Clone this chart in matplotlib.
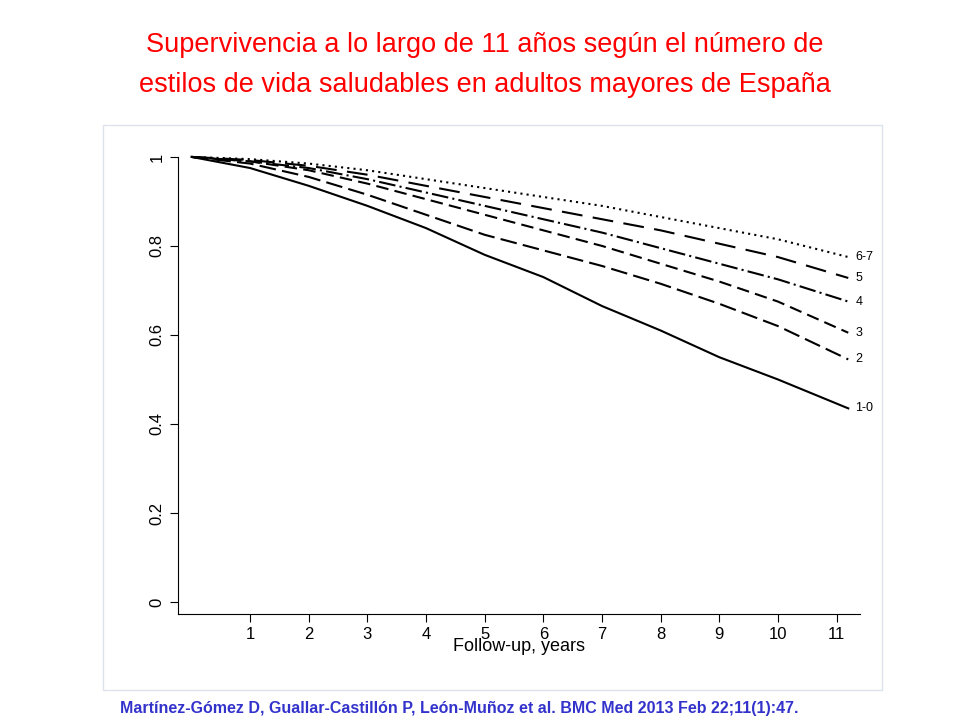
import matplotlib
matplotlib.use("Agg")
import matplotlib.pyplot as plt
from matplotlib.patches import Rectangle

plt.rcParams["font.family"] = "Liberation Sans"

years = [0, 1, 2, 3, 4, 5, 6, 7, 8, 9, 10, 11.2]
s10 = [1, 0.975, 0.935, 0.89, 0.84, 0.78, 0.73, 0.665, 0.61, 0.55, 0.5, 0.435]
s2 = [1, 0.985, 0.955, 0.915, 0.87, 0.825, 0.79, 0.755, 0.715, 0.67, 0.62, 0.545]
s3 = [1, 0.99, 0.97, 0.94, 0.905, 0.87, 0.835, 0.8, 0.76, 0.72, 0.675, 0.605]
s4 = [1, 0.99, 0.975, 0.95, 0.92, 0.89, 0.86, 0.83, 0.795, 0.76, 0.725, 0.675]
s5 = [1, 0.993, 0.98, 0.96, 0.935, 0.91, 0.885, 0.86, 0.835, 0.805, 0.775, 0.728]
s67 = [1, 0.995, 0.985, 0.97, 0.95, 0.93, 0.91, 0.89, 0.865, 0.84, 0.815, 0.775]
labels = ["1-0", "2", "3", "4", "5", "6-7"]
xticks = list(range(1, 12))
yticks = [0, 0.2, 0.4, 0.6, 0.8, 1]

fig = plt.figure(figsize=(9.6, 7.2), dpi=100)
fig.patches.append(Rectangle((103/960, 1-690/720), 779/960, 565/720, transform=fig.transFigure,
                             fill=False, edgecolor="#dde3ea", lw=1))
ax = fig.add_axes([178/960, 1-614/720, 682/960, 474/720])
styles = ["-", (0, (8, 3)), (0, (6, 3)), (0, (8, 2, 1, 2)), (0, (10, 5)), (0, (1, 2))]
series = [s10, s2, s3, s4, s5, s67]
for s, ls, lab in zip(series, styles, labels):
    ax.plot(years, s, color="black", lw=1.5, linestyle=ls)
    ax.text(years[-1] + 0.12, s[-1], lab, fontsize=9, va="center", ha="left")
ax.set_xlim(-0.23, 11.4)
ax.set_ylim(-0.027, 1.038)
ax.set_xticks(xticks)
ax.set_yticks(yticks)
ax.set_yticklabels(["0", "0.2", "0.4", "0.6", "0.8", "1"], rotation=90, va="center")
ax.tick_params(labelsize=12, length=6)
for sp in ["top", "right"]:
    ax.spines[sp].set_visible(False)
ax.spines["left"].set_bounds(-0.027, 1.0)
ax.set_xlabel("Follow-up, years", fontsize=13, labelpad=-3)
fig.text(0.505, 0.938, "Supervivencia a lo largo de 11 años según el número de", color="#ff0000",
         fontsize=19.5, ha="center", va="center")
fig.text(0.505, 0.882, "estilos de vida saludables en adultos mayores de España", color="#ff0000",
         fontsize=19.5, ha="center", va="center")
fig.text(120/960, 1-708/720, "Martínez-Gómez D, Guallar-Castillón P, León-Muñoz et al. BMC Med 2013 Feb 22;11(1):47.",
         color="#3333cc", fontsize=11.5, fontweight="bold", ha="left", va="center")
fig.savefig("out.png", dpi=100)
